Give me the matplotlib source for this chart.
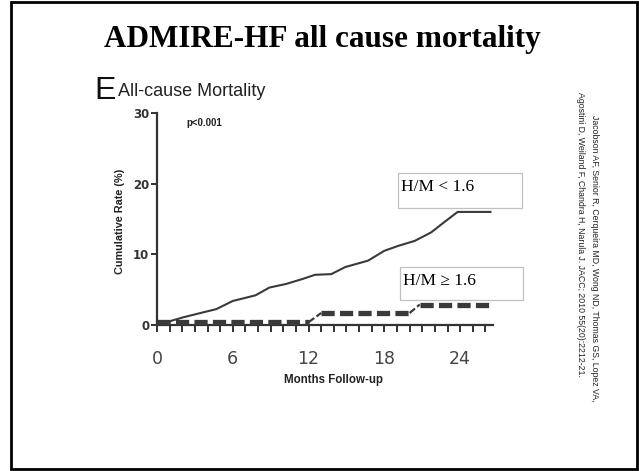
import matplotlib
matplotlib.use("Agg")
import matplotlib.pyplot as plt
from matplotlib.patches import Rectangle

plt.rcParams['lines.scale_dashes'] = False

W, H = 639, 471
DPI = 100

# ---- data ----
months_low = [0, 2.1, 4.7, 6.0, 7.8, 8.9, 10.2, 11.5, 12.5, 13.8, 14.9, 16.7,
              18.0, 19.1, 20.4, 21.7, 22.7, 23.8, 26.4]
rate_low = [0, 1.1, 2.25, 3.4, 4.2, 5.3, 5.8, 6.5, 7.1, 7.2, 8.2, 9.1,
            10.5, 11.2, 11.9, 13.1, 14.5, 16.0, 16.0]
months_high = [0, 12.0, 13.0, 20.0, 20.8, 26.3]
rate_high = [0.4, 0.4, 1.7, 1.7, 2.9, 2.9]
x_ticks = list(range(0, 27))
x_ticklabels = ["0", "6", "12", "18", "24"]
y_ticks = [0, 10, 20, 30]

title = "ADMIRE-HF all cause mortality"
panel_letter = "E"
panel_title = "All-cause Mortality"
pval = "p<0.001"
xlabel = "Months Follow-up"
ylabel = "Cumulative Rate (%)"
label_low = "H/M < 1.6"
label_high = "H/M \u2265 1.6"
cite1 = "Jacobson AF, Senior R, Cerqueira MD, Wong ND, Thomas GS, Lopez VA,"
cite2 = "Agostini D, Weiland F, Chandra H, Narula J. JACC; 2010 55(20):2212-21."


def fx(px):
    return px / W


def fy(py):
    return 1 - py / H


fig = plt.figure(figsize=(W / DPI, H / DPI), dpi=DPI)
fig.patch.set_facecolor("white")

# slide border
fig.patches.append(Rectangle((fx(11), fy(469)), fx(637) - fx(11), fy(2) - fy(469),
                             transform=fig.transFigure, fill=False,
                             edgecolor="black", linewidth=2.0))

# title
fig.text(fx(322), fy(47), title, ha="center", va="baseline",
         family="Liberation Serif", weight="bold", fontsize=22.5)

fig.text(fx(94), fy(99), panel_letter, ha="left", va="baseline",
         family="Liberation Sans", fontsize=23, color="#111111")
fig.text(fx(118), fy(96), panel_title, ha="left", va="baseline",
         family="Liberation Sans", fontsize=13, color="#222222")

# axes
x0, x1 = 157, 493
y0, y1 = 325, 113
ax = fig.add_axes([fx(x0), fy(y0), fx(x1) - fx(x0), fy(y1) - fy(y0)])
ax.set_xlim(0, 26.6)
ax.set_ylim(0, 30)
for s in ["top", "right"]:
    ax.spines[s].set_visible(False)
for s in ["left", "bottom"]:
    ax.spines[s].set_linewidth(1.6)
    ax.spines[s].set_color("#333333")
ax.set_facecolor("none")

ax.plot(months_low, rate_low, color="#3a3a3a", linewidth=1.5, clip_on=False, zorder=3)

# dashed curve: flat parts thick dashes, rises thin
for i in range(len(months_high) - 1):
    xs = months_high[i:i + 2]
    ys = rate_high[i:i + 2]
    if ys[0] == ys[1]:
        ln, = ax.plot(xs, ys, color="#3a3a3a", linewidth=3.8, clip_on=False,
                      zorder=4, dash_capstyle="butt")
        ln.set_dashes((9.5, 3.8))
    else:
        ln, = ax.plot(xs, ys, color="#3a3a3a", linewidth=1.6, clip_on=False,
                      zorder=4, dash_capstyle="butt")
        ln.set_dashes((5, 2))

ax.set_xticks(x_ticks)
ax.set_xticklabels([str(t) if t % 6 == 0 else "" for t in x_ticks],
                   family="DejaVu Sans", fontsize=12.5, color="#444444")
ax.tick_params(axis="x", direction="out", length=5, width=1.4, color="#333333", pad=13)
ax.set_yticks(y_ticks)
ax.set_yticklabels([str(t) for t in y_ticks], family="DejaVu Sans",
                   weight="bold", fontsize=8.5, color="#333333")
ax.tick_params(axis="y", direction="out", length=4.5, width=1.4, color="#333333", pad=1)

ax.text(0.089, 0.955, pval, transform=ax.transAxes, ha="left", va="center",
        family="Liberation Sans", weight="bold", fontsize=7, color="#222222")

fig.text(fx(334), fy(380), xlabel, ha="center", va="center",
         family="Liberation Sans", weight="bold", fontsize=8.3, color="#222222")
fig.text(fx(120), fy(221), ylabel, ha="center", va="center", rotation=90,
         family="Liberation Sans", weight="bold", fontsize=7.8, color="#222222")

# label boxes
for (l, t, r, b, txt) in [(398, 173, 522, 208, label_low), (400, 267, 523, 300, label_high)]:
    fig.patches.append(Rectangle((fx(l), fy(b)), fx(r) - fx(l), fy(t) - fy(b),
                                 transform=fig.transFigure, facecolor="white",
                                 edgecolor="#c0c0c0", linewidth=0.9, zorder=5))
    fig.text(fx(l + 3), fy(t + 14), txt, ha="left", va="center",
             family="Liberation Serif", fontsize=12.5, color="black", zorder=6)

# citation (vertical)
fig.text(fx(595), fy(115), cite1, rotation=-90, rotation_mode="anchor",
         ha="left", va="center", family="Liberation Sans", fontsize=6.3, color="#222222")
fig.text(fx(580), fy(92), cite2, rotation=-90, rotation_mode="anchor",
         ha="left", va="center", family="Liberation Sans", fontsize=6.3, color="#222222")

fig.savefig("out.png", dpi=DPI, facecolor="white")
